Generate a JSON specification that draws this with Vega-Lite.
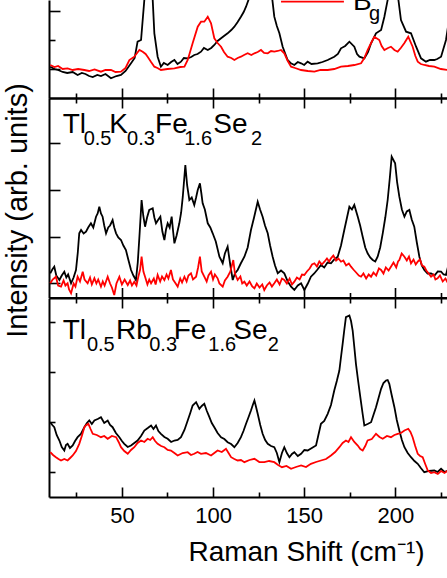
{
  "$schema": "https://vega.github.io/schema/vega-lite/v6.json",
  "padding": {"left": 3, "top": 0, "right": 0, "bottom": 0},
  "spacing": 0,
  "bounds": "flush",
  "config": {
    "font": "Liberation Sans",
    "view": {"stroke": null},
    "concat": {"spacing": 0},
    "axis": {"domainColor": "black", "domainWidth": 2, "tickColor": "black", "tickWidth": 1.6, "labelColor": "black", "titleColor": "black", "grid": false, "titleFontWeight": "normal", "labelFont": "Liberation Sans", "titleFont": "Liberation Sans"},
    "text": {"font": "Liberation Sans", "color": "black"}
  },
  "datasets": {
    "spec": [
      {"p":"top","s":"Ag","x":10.7,"y":31.3},{"p":"top","s":"Ag","x":13,"y":29},{"p":"top","s":"Ag","x":15,"y":28},{"p":"top","s":"Ag","x":17.5,"y":26},{"p":"top","s":"Ag","x":20,"y":25},{"p":"top","s":"Ag","x":23,"y":26},{"p":"top","s":"Ag","x":25.7,"y":23},{"p":"top","s":"Ag","x":28,"y":25},{"p":"top","s":"Ag","x":30,"y":24},{"p":"top","s":"Ag","x":32,"y":22},{"p":"top","s":"Ag","x":34,"y":21},{"p":"top","s":"Ag","x":36.5,"y":23},{"p":"top","s":"Ag","x":38.5,"y":22},{"p":"top","s":"Ag","x":41,"y":24},{"p":"top","s":"Ag","x":44,"y":19.7},{"p":"top","s":"Ag","x":47,"y":22},{"p":"top","s":"Ag","x":49.5,"y":23},{"p":"top","s":"Ag","x":52,"y":27},{"p":"top","s":"Ag","x":55,"y":34.7},{"p":"top","s":"Ag","x":57,"y":40},{"p":"top","s":"Ag","x":58.6,"y":56.3},{"p":"top","s":"Ag","x":60.5,"y":58},{"p":"top","s":"Ag","x":62.3,"y":98},{"p":"top","s":"Ag","x":63.8,"y":200},{"p":"top","s":"Ag","x":65.5,"y":150},{"p":"top","s":"Ag","x":66.9,"y":98},{"p":"top","s":"Ag","x":67.8,"y":64.7},{"p":"top","s":"Ag","x":69.6,"y":41.3},{"p":"top","s":"Ag","x":71.4,"y":31.3},{"p":"top","s":"Ag","x":73,"y":35},{"p":"top","s":"Ag","x":75.1,"y":33},{"p":"top","s":"Ag","x":77,"y":36},{"p":"top","s":"Ag","x":78.8,"y":38},{"p":"top","s":"Ag","x":80.5,"y":34},{"p":"top","s":"Ag","x":82.4,"y":36.3},{"p":"top","s":"Ag","x":84,"y":40},{"p":"top","s":"Ag","x":86.1,"y":39.7},{"p":"top","s":"Ag","x":88,"y":41},{"p":"top","s":"Ag","x":89.7,"y":43},{"p":"top","s":"Ag","x":91.5,"y":44},{"p":"top","s":"Ag","x":93.4,"y":46.3},{"p":"top","s":"Ag","x":95,"y":50},{"p":"top","s":"Ag","x":97.1,"y":48},{"p":"top","s":"Ag","x":99,"y":50},{"p":"top","s":"Ag","x":100.7,"y":53},{"p":"top","s":"Ag","x":102.5,"y":57},{"p":"top","s":"Ag","x":104.4,"y":59.7},{"p":"top","s":"Ag","x":106,"y":62},{"p":"top","s":"Ag","x":108,"y":64.7},{"p":"top","s":"Ag","x":110,"y":68},{"p":"top","s":"Ag","x":111.7,"y":71.3},{"p":"top","s":"Ag","x":113.5,"y":76},{"p":"top","s":"Ag","x":115.3,"y":81.3},{"p":"top","s":"Ag","x":116.8,"y":86},{"p":"top","s":"Ag","x":118.1,"y":91.3},{"p":"top","s":"Ag","x":120.8,"y":105},{"p":"top","s":"Ag","x":124.5,"y":125},{"p":"top","s":"Ag","x":128,"y":130},{"p":"top","s":"Ag","x":131.8,"y":110},{"p":"top","s":"Ag","x":133.6,"y":81.3},{"p":"top","s":"Ag","x":135,"y":72},{"p":"top","s":"Ag","x":136.4,"y":64.7},{"p":"top","s":"Ag","x":138.2,"y":51.3},{"p":"top","s":"Ag","x":140.9,"y":38},{"p":"top","s":"Ag","x":142.5,"y":35},{"p":"top","s":"Ag","x":144.6,"y":33},{"p":"top","s":"Ag","x":146.5,"y":36},{"p":"top","s":"Ag","x":148.3,"y":34.7},{"p":"top","s":"Ag","x":150,"y":33},{"p":"top","s":"Ag","x":151.9,"y":36.3},{"p":"top","s":"Ag","x":154,"y":34},{"p":"top","s":"Ag","x":157.4,"y":34.7},{"p":"top","s":"Ag","x":160,"y":36},{"p":"top","s":"Ag","x":162.9,"y":38},{"p":"top","s":"Ag","x":166.5,"y":41.3},{"p":"top","s":"Ag","x":168.5,"y":44},{"p":"top","s":"Ag","x":170.2,"y":49.7},{"p":"top","s":"Ag","x":172.5,"y":52},{"p":"top","s":"Ag","x":174.8,"y":56.3},{"p":"top","s":"Ag","x":177.5,"y":51.3},{"p":"top","s":"Ag","x":179,"y":44},{"p":"top","s":"Ag","x":180.3,"y":41.3},{"p":"top","s":"Ag","x":183,"y":39.7},{"p":"top","s":"Ag","x":185,"y":46},{"p":"top","s":"Ag","x":186.7,"y":54.7},{"p":"top","s":"Ag","x":189.4,"y":64.7},{"p":"top","s":"Ag","x":192.2,"y":68},{"p":"top","s":"Ag","x":194,"y":81.3},{"p":"top","s":"Ag","x":195.8,"y":98},{"p":"top","s":"Ag","x":198.6,"y":200},{"p":"top","s":"Ag","x":201.7,"y":98},{"p":"top","s":"Ag","x":203.1,"y":78},{"p":"top","s":"Ag","x":205.9,"y":66.3},{"p":"top","s":"Ag","x":208.6,"y":64.7},{"p":"top","s":"Ag","x":211.4,"y":51.3},{"p":"top","s":"Ag","x":214.1,"y":39.7},{"p":"top","s":"Ag","x":216.8,"y":36.3},{"p":"top","s":"Ag","x":219,"y":38},{"p":"top","s":"Ag","x":221.4,"y":38},{"p":"top","s":"Ag","x":223,"y":39},{"p":"top","s":"Ag","x":225.1,"y":41.3},{"p":"top","s":"Ag","x":227.8,"y":58},{"p":"top","s":"Ag","x":228.9,"y":71.3},{"p":"top","s":"Ag","x":230,"y":85},

      {"p":"top","s":"Bg","x":10.7,"y":33},{"p":"top","s":"Bg","x":13,"y":31},{"p":"top","s":"Bg","x":15,"y":32},{"p":"top","s":"Bg","x":17.5,"y":29},{"p":"top","s":"Bg","x":20.2,"y":29.7},{"p":"top","s":"Bg","x":23,"y":28},{"p":"top","s":"Bg","x":26,"y":29},{"p":"top","s":"Bg","x":29.4,"y":28},{"p":"top","s":"Bg","x":32,"y":27},{"p":"top","s":"Bg","x":35,"y":28.5},{"p":"top","s":"Bg","x":38.5,"y":26.3},{"p":"top","s":"Bg","x":41,"y":28},{"p":"top","s":"Bg","x":44,"y":28},{"p":"top","s":"Bg","x":46.5,"y":26},{"p":"top","s":"Bg","x":49.5,"y":26.3},{"p":"top","s":"Bg","x":52,"y":30},{"p":"top","s":"Bg","x":54.1,"y":38},{"p":"top","s":"Bg","x":56.8,"y":41.3},{"p":"top","s":"Bg","x":59.6,"y":48},{"p":"top","s":"Bg","x":61.4,"y":46.3},{"p":"top","s":"Bg","x":63,"y":44},{"p":"top","s":"Bg","x":64.1,"y":41.3},{"p":"top","s":"Bg","x":66,"y":36},{"p":"top","s":"Bg","x":67.8,"y":31.3},{"p":"top","s":"Bg","x":69.5,"y":30},{"p":"top","s":"Bg","x":71.4,"y":28},{"p":"top","s":"Bg","x":75,"y":29},{"p":"top","s":"Bg","x":78.8,"y":29.7},{"p":"top","s":"Bg","x":82,"y":31},{"p":"top","s":"Bg","x":84.3,"y":31.3},{"p":"top","s":"Bg","x":86.1,"y":38},{"p":"top","s":"Bg","x":88.8,"y":54.7},{"p":"top","s":"Bg","x":91.6,"y":71.3},{"p":"top","s":"Bg","x":93.4,"y":76.3},{"p":"top","s":"Bg","x":95.2,"y":76.3},{"p":"top","s":"Bg","x":97.1,"y":81.3},{"p":"top","s":"Bg","x":98.9,"y":74.7},{"p":"top","s":"Bg","x":100.7,"y":59.7},{"p":"top","s":"Bg","x":102.5,"y":55},{"p":"top","s":"Bg","x":104.4,"y":51.3},{"p":"top","s":"Bg","x":106,"y":46},{"p":"top","s":"Bg","x":108,"y":41.3},{"p":"top","s":"Bg","x":110,"y":40},{"p":"top","s":"Bg","x":111.7,"y":38},{"p":"top","s":"Bg","x":113.5,"y":40},{"p":"top","s":"Bg","x":115.3,"y":41.3},{"p":"top","s":"Bg","x":117,"y":43},{"p":"top","s":"Bg","x":119,"y":44.7},{"p":"top","s":"Bg","x":121,"y":43},{"p":"top","s":"Bg","x":122.7,"y":44.7},{"p":"top","s":"Bg","x":124.5,"y":46},{"p":"top","s":"Bg","x":126.3,"y":48},{"p":"top","s":"Bg","x":128,"y":45},{"p":"top","s":"Bg","x":130,"y":44.7},{"p":"top","s":"Bg","x":131.8,"y":47},{"p":"top","s":"Bg","x":133.6,"y":46.3},{"p":"top","s":"Bg","x":135.5,"y":47},{"p":"top","s":"Bg","x":137.3,"y":48},{"p":"top","s":"Bg","x":139.1,"y":44.7},{"p":"top","s":"Bg","x":141,"y":37},{"p":"top","s":"Bg","x":142.8,"y":31.3},{"p":"top","s":"Bg","x":145,"y":30},{"p":"top","s":"Bg","x":148.3,"y":28},{"p":"top","s":"Bg","x":152,"y":27},{"p":"top","s":"Bg","x":155.6,"y":26.3},{"p":"top","s":"Bg","x":159,"y":28},{"p":"top","s":"Bg","x":162.9,"y":28},{"p":"top","s":"Bg","x":166.5,"y":29},{"p":"top","s":"Bg","x":170.2,"y":31.3},{"p":"top","s":"Bg","x":174,"y":32},{"p":"top","s":"Bg","x":177.5,"y":33},{"p":"top","s":"Bg","x":181.2,"y":34.7},{"p":"top","s":"Bg","x":183,"y":40},{"p":"top","s":"Bg","x":184.8,"y":48},{"p":"top","s":"Bg","x":186.7,"y":55},{"p":"top","s":"Bg","x":188.5,"y":61.3},{"p":"top","s":"Bg","x":191.2,"y":58},{"p":"top","s":"Bg","x":192.5,"y":52},{"p":"top","s":"Bg","x":194,"y":48},{"p":"top","s":"Bg","x":196,"y":50},{"p":"top","s":"Bg","x":197.6,"y":51.3},{"p":"top","s":"Bg","x":199.5,"y":48},{"p":"top","s":"Bg","x":201.3,"y":46.3},{"p":"top","s":"Bg","x":203,"y":50},{"p":"top","s":"Bg","x":204.9,"y":54.7},{"p":"top","s":"Bg","x":207.1,"y":61.3},{"p":"top","s":"Bg","x":209.5,"y":51.3},{"p":"top","s":"Bg","x":211,"y":42},{"p":"top","s":"Bg","x":212.3,"y":36.3},{"p":"top","s":"Bg","x":214,"y":34},{"p":"top","s":"Bg","x":215.9,"y":33},{"p":"top","s":"Bg","x":218.5,"y":32},{"p":"top","s":"Bg","x":221.4,"y":31.3},{"p":"top","s":"Bg","x":225,"y":29},{"p":"top","s":"Bg","x":228.9,"y":28},{"p":"top","s":"Bg","x":230,"y":29},

      {"p":"mid","s":"Ag","x":10.7,"y":24.2},{"p":"mid","s":"Ag","x":11.8,"y":28},{"p":"mid","s":"Ag","x":12.9,"y":30.8},{"p":"mid","s":"Ag","x":14,"y":22},{"p":"mid","s":"Ag","x":15.7,"y":17.5},{"p":"mid","s":"Ag","x":17,"y":22},{"p":"mid","s":"Ag","x":18.4,"y":25.8},{"p":"mid","s":"Ag","x":19.5,"y":20},{"p":"mid","s":"Ag","x":20.5,"y":23},{"p":"mid","s":"Ag","x":22.1,"y":14.2},{"p":"mid","s":"Ag","x":23.5,"y":20},{"p":"mid","s":"Ag","x":24.8,"y":27.5},{"p":"mid","s":"Ag","x":25.8,"y":45},{"p":"mid","s":"Ag","x":26.6,"y":64.2},{"p":"mid","s":"Ag","x":27.6,"y":67.5},{"p":"mid","s":"Ag","x":29,"y":64},{"p":"mid","s":"Ag","x":30.3,"y":65.8},{"p":"mid","s":"Ag","x":31.5,"y":70},{"p":"mid","s":"Ag","x":33,"y":74.2},{"p":"mid","s":"Ag","x":34.3,"y":70},{"p":"mid","s":"Ag","x":35.8,"y":80.8},{"p":"mid","s":"Ag","x":36.7,"y":84},{"p":"mid","s":"Ag","x":37.6,"y":90.8},{"p":"mid","s":"Ag","x":38.5,"y":84},{"p":"mid","s":"Ag","x":39.4,"y":80.8},{"p":"mid","s":"Ag","x":40.3,"y":72},{"p":"mid","s":"Ag","x":41.3,"y":64.2},{"p":"mid","s":"Ag","x":42.5,"y":70},{"p":"mid","s":"Ag","x":43.5,"y":72},{"p":"mid","s":"Ag","x":44.9,"y":77.5},{"p":"mid","s":"Ag","x":45.8,"y":70},{"p":"mid","s":"Ag","x":46.8,"y":64.2},{"p":"mid","s":"Ag","x":48,"y":60},{"p":"mid","s":"Ag","x":49.5,"y":57.5},{"p":"mid","s":"Ag","x":50.8,"y":52},{"p":"mid","s":"Ag","x":52.2,"y":47.5},{"p":"mid","s":"Ag","x":53.5,"y":38},{"p":"mid","s":"Ag","x":55,"y":27.5},{"p":"mid","s":"Ag","x":56.3,"y":22},{"p":"mid","s":"Ag","x":57.7,"y":17.5},{"p":"mid","s":"Ag","x":58.7,"y":35},{"p":"mid","s":"Ag","x":59.6,"y":60.8},{"p":"mid","s":"Ag","x":60.8,"y":97.5},{"p":"mid","s":"Ag","x":61.7,"y":82},{"p":"mid","s":"Ag","x":62.7,"y":70.8},{"p":"mid","s":"Ag","x":63.8,"y":80},{"p":"mid","s":"Ag","x":65,"y":87.5},{"p":"mid","s":"Ag","x":66.9,"y":89.2},{"p":"mid","s":"Ag","x":67.8,"y":80},{"p":"mid","s":"Ag","x":68.7,"y":74.2},{"p":"mid","s":"Ag","x":70,"y":78},{"p":"mid","s":"Ag","x":71.1,"y":80.8},{"p":"mid","s":"Ag","x":72.2,"y":66},{"p":"mid","s":"Ag","x":73.3,"y":57.5},{"p":"mid","s":"Ag","x":74.2,"y":68},{"p":"mid","s":"Ag","x":75.1,"y":74.2},{"p":"mid","s":"Ag","x":76.2,"y":70},{"p":"mid","s":"Ag","x":77.3,"y":80.8},{"p":"mid","s":"Ag","x":78.1,"y":66},{"p":"mid","s":"Ag","x":78.8,"y":54.2},{"p":"mid","s":"Ag","x":80,"y":62},{"p":"mid","s":"Ag","x":81.5,"y":74.2},{"p":"mid","s":"Ag","x":82.5,"y":85},{"p":"mid","s":"Ag","x":83.4,"y":100.8},{"p":"mid","s":"Ag","x":84.8,"y":132.5},{"p":"mid","s":"Ag","x":85.8,"y":112},{"p":"mid","s":"Ag","x":87,"y":97.5},{"p":"mid","s":"Ag","x":88.3,"y":100},{"p":"mid","s":"Ag","x":89.7,"y":92.5},{"p":"mid","s":"Ag","x":90.7,"y":100},{"p":"mid","s":"Ag","x":91.6,"y":107.5},{"p":"mid","s":"Ag","x":92.8,"y":114.2},{"p":"mid","s":"Ag","x":93.6,"y":104},{"p":"mid","s":"Ag","x":94.3,"y":94.2},{"p":"mid","s":"Ag","x":95.5,"y":88},{"p":"mid","s":"Ag","x":97.1,"y":74.2},{"p":"mid","s":"Ag","x":98.5,"y":70},{"p":"mid","s":"Ag","x":99.8,"y":64.2},{"p":"mid","s":"Ag","x":101.5,"y":56},{"p":"mid","s":"Ag","x":103.5,"y":40.8},{"p":"mid","s":"Ag","x":104.3,"y":38},{"p":"mid","s":"Ag","x":105.3,"y":34.2},{"p":"mid","s":"Ag","x":106.5,"y":44},{"p":"mid","s":"Ag","x":108,"y":50.8},{"p":"mid","s":"Ag","x":109.5,"y":32},{"p":"mid","s":"Ag","x":110.8,"y":17.5},{"p":"mid","s":"Ag","x":112,"y":24},{"p":"mid","s":"Ag","x":113.5,"y":27.5},{"p":"mid","s":"Ag","x":115.2,"y":34},{"p":"mid","s":"Ag","x":117.2,"y":40.8},{"p":"mid","s":"Ag","x":119,"y":50},{"p":"mid","s":"Ag","x":120.8,"y":67.5},{"p":"mid","s":"Ag","x":122.5,"y":80},{"p":"mid","s":"Ag","x":124.5,"y":95.8},{"p":"mid","s":"Ag","x":125.8,"y":88},{"p":"mid","s":"Ag","x":127.2,"y":80.8},{"p":"mid","s":"Ag","x":128.5,"y":72},{"p":"mid","s":"Ag","x":130,"y":64.2},{"p":"mid","s":"Ag","x":131.3,"y":52},{"p":"mid","s":"Ag","x":132.7,"y":40.8},{"p":"mid","s":"Ag","x":134,"y":32},{"p":"mid","s":"Ag","x":135.5,"y":24.2},{"p":"mid","s":"Ag","x":137.3,"y":27},{"p":"mid","s":"Ag","x":139.1,"y":24.2},{"p":"mid","s":"Ag","x":141,"y":16},{"p":"mid","s":"Ag","x":142.8,"y":10.8},{"p":"mid","s":"Ag","x":144.6,"y":7.5},{"p":"mid","s":"Ag","x":146.5,"y":12},{"p":"mid","s":"Ag","x":148.3,"y":14.2},{"p":"mid","s":"Ag","x":150.1,"y":7.5},{"p":"mid","s":"Ag","x":152,"y":14},{"p":"mid","s":"Ag","x":153.7,"y":20.8},{"p":"mid","s":"Ag","x":155.5,"y":24},{"p":"mid","s":"Ag","x":157.3,"y":28},{"p":"mid","s":"Ag","x":159.2,"y":32.5},{"p":"mid","s":"Ag","x":161,"y":30},{"p":"mid","s":"Ag","x":162.8,"y":35},{"p":"mid","s":"Ag","x":164.7,"y":34.2},{"p":"mid","s":"Ag","x":166.5,"y":38},{"p":"mid","s":"Ag","x":168.4,"y":40.8},{"p":"mid","s":"Ag","x":170.2,"y":52},{"p":"mid","s":"Ag","x":172,"y":67.5},{"p":"mid","s":"Ag","x":173.5,"y":80},{"p":"mid","s":"Ag","x":174.8,"y":90.8},{"p":"mid","s":"Ag","x":176.2,"y":88},{"p":"mid","s":"Ag","x":177.5,"y":92.5},{"p":"mid","s":"Ag","x":179.4,"y":80.8},{"p":"mid","s":"Ag","x":180.7,"y":72},{"p":"mid","s":"Ag","x":182.1,"y":60.8},{"p":"mid","s":"Ag","x":183.5,"y":50},{"p":"mid","s":"Ag","x":184.8,"y":44.2},{"p":"mid","s":"Ag","x":186.2,"y":40},{"p":"mid","s":"Ag","x":187.6,"y":37.5},{"p":"mid","s":"Ag","x":189,"y":36},{"p":"mid","s":"Ag","x":190.3,"y":40.8},{"p":"mid","s":"Ag","x":191.7,"y":50},{"p":"mid","s":"Ag","x":193.1,"y":64.2},{"p":"mid","s":"Ag","x":194.5,"y":80},{"p":"mid","s":"Ag","x":195.8,"y":97.5},{"p":"mid","s":"Ag","x":197,"y":120},{"p":"mid","s":"Ag","x":198,"y":140.8},{"p":"mid","s":"Ag","x":199.9,"y":134.2},{"p":"mid","s":"Ag","x":201,"y":115},{"p":"mid","s":"Ag","x":202.2,"y":100.8},{"p":"mid","s":"Ag","x":203.6,"y":88},{"p":"mid","s":"Ag","x":205,"y":80.8},{"p":"mid","s":"Ag","x":206.3,"y":86},{"p":"mid","s":"Ag","x":207.7,"y":87.5},{"p":"mid","s":"Ag","x":209,"y":78},{"p":"mid","s":"Ag","x":210.4,"y":70.8},{"p":"mid","s":"Ag","x":211.8,"y":55},{"p":"mid","s":"Ag","x":213.2,"y":40.8},{"p":"mid","s":"Ag","x":214.5,"y":32},{"p":"mid","s":"Ag","x":215.9,"y":27.5},{"p":"mid","s":"Ag","x":217.7,"y":24},{"p":"mid","s":"Ag","x":219.6,"y":24.2},{"p":"mid","s":"Ag","x":221.5,"y":22},{"p":"mid","s":"Ag","x":223.3,"y":26},{"p":"mid","s":"Ag","x":225.1,"y":25.8},{"p":"mid","s":"Ag","x":226.5,"y":23},{"p":"mid","s":"Ag","x":227.8,"y":22.5},{"p":"mid","s":"Ag","x":228.9,"y":30.8},{"p":"mid","s":"Ag","x":230,"y":34},

      {"p":"mid","s":"Bg","x":10.7,"y":14.2},{"p":"mid","s":"Bg","x":12,"y":18},{"p":"mid","s":"Bg","x":13.8,"y":20.8},{"p":"mid","s":"Bg","x":15,"y":12},{"p":"mid","s":"Bg","x":16.6,"y":10.8},{"p":"mid","s":"Bg","x":18,"y":17},{"p":"mid","s":"Bg","x":19,"y":12},{"p":"mid","s":"Bg","x":20.2,"y":14.2},{"p":"mid","s":"Bg","x":21,"y":8},{"p":"mid","s":"Bg","x":22.1,"y":4.2},{"p":"mid","s":"Bg","x":23.5,"y":14},{"p":"mid","s":"Bg","x":24.5,"y":11},{"p":"mid","s":"Bg","x":25.7,"y":20.8},{"p":"mid","s":"Bg","x":27,"y":16},{"p":"mid","s":"Bg","x":28.5,"y":25.8},{"p":"mid","s":"Bg","x":29.5,"y":18},{"p":"mid","s":"Bg","x":31.2,"y":14.2},{"p":"mid","s":"Bg","x":32.5,"y":20},{"p":"mid","s":"Bg","x":33.5,"y":13},{"p":"mid","s":"Bg","x":34.9,"y":19.2},{"p":"mid","s":"Bg","x":36,"y":14},{"p":"mid","s":"Bg","x":37,"y":18},{"p":"mid","s":"Bg","x":38.5,"y":10.8},{"p":"mid","s":"Bg","x":39.5,"y":16},{"p":"mid","s":"Bg","x":40.5,"y":12},{"p":"mid","s":"Bg","x":42.2,"y":20.8},{"p":"mid","s":"Bg","x":43.5,"y":14},{"p":"mid","s":"Bg","x":44.5,"y":10},{"p":"mid","s":"Bg","x":45.8,"y":2.5},{"p":"mid","s":"Bg","x":47,"y":14},{"p":"mid","s":"Bg","x":48.6,"y":20.8},{"p":"mid","s":"Bg","x":50,"y":13},{"p":"mid","s":"Bg","x":51.5,"y":18},{"p":"mid","s":"Bg","x":53.2,"y":12.5},{"p":"mid","s":"Bg","x":54.5,"y":17},{"p":"mid","s":"Bg","x":55.5,"y":12},{"p":"mid","s":"Bg","x":56.8,"y":15.8},{"p":"mid","s":"Bg","x":58,"y":12},{"p":"mid","s":"Bg","x":59,"y":20.8},{"p":"mid","s":"Bg","x":60,"y":28},{"p":"mid","s":"Bg","x":60.8,"y":40.8},{"p":"mid","s":"Bg","x":61.8,"y":26},{"p":"mid","s":"Bg","x":62.7,"y":20.8},{"p":"mid","s":"Bg","x":64,"y":13},{"p":"mid","s":"Bg","x":65,"y":18},{"p":"mid","s":"Bg","x":66,"y":14.2},{"p":"mid","s":"Bg","x":67.5,"y":19},{"p":"mid","s":"Bg","x":68.5,"y":13},{"p":"mid","s":"Bg","x":69.6,"y":22.5},{"p":"mid","s":"Bg","x":71,"y":16},{"p":"mid","s":"Bg","x":72,"y":21},{"p":"mid","s":"Bg","x":73.3,"y":17.5},{"p":"mid","s":"Bg","x":74.5,"y":23},{"p":"mid","s":"Bg","x":75.5,"y":19},{"p":"mid","s":"Bg","x":76.9,"y":27.5},{"p":"mid","s":"Bg","x":78,"y":18},{"p":"mid","s":"Bg","x":79.5,"y":14},{"p":"mid","s":"Bg","x":80.6,"y":10.8},{"p":"mid","s":"Bg","x":82,"y":19},{"p":"mid","s":"Bg","x":83,"y":15},{"p":"mid","s":"Bg","x":84.3,"y":20.8},{"p":"mid","s":"Bg","x":85.5,"y":16},{"p":"mid","s":"Bg","x":86.5,"y":22},{"p":"mid","s":"Bg","x":87.9,"y":24.2},{"p":"mid","s":"Bg","x":89,"y":18},{"p":"mid","s":"Bg","x":90.7,"y":20.8},{"p":"mid","s":"Bg","x":91.8,"y":30},{"p":"mid","s":"Bg","x":92.8,"y":40.8},{"p":"mid","s":"Bg","x":93.8,"y":26},{"p":"mid","s":"Bg","x":95.2,"y":20.8},{"p":"mid","s":"Bg","x":96.5,"y":16},{"p":"mid","s":"Bg","x":97.5,"y":22},{"p":"mid","s":"Bg","x":98.9,"y":25.8},{"p":"mid","s":"Bg","x":100,"y":18},{"p":"mid","s":"Bg","x":101,"y":23},{"p":"mid","s":"Bg","x":102.5,"y":19.2},{"p":"mid","s":"Bg","x":103.5,"y":14},{"p":"mid","s":"Bg","x":105.3,"y":10.8},{"p":"mid","s":"Bg","x":106.5,"y":17},{"p":"mid","s":"Bg","x":108,"y":20.8},{"p":"mid","s":"Bg","x":109.5,"y":26},{"p":"mid","s":"Bg","x":111.1,"y":37.5},{"p":"mid","s":"Bg","x":112,"y":24},{"p":"mid","s":"Bg","x":113.5,"y":17.5},{"p":"mid","s":"Bg","x":115,"y":21},{"p":"mid","s":"Bg","x":116,"y":14},{"p":"mid","s":"Bg","x":117.2,"y":15.8},{"p":"mid","s":"Bg","x":118.5,"y":12},{"p":"mid","s":"Bg","x":120,"y":16},{"p":"mid","s":"Bg","x":121.5,"y":11},{"p":"mid","s":"Bg","x":122.7,"y":9.2},{"p":"mid","s":"Bg","x":124,"y":14},{"p":"mid","s":"Bg","x":125.5,"y":10},{"p":"mid","s":"Bg","x":127,"y":13},{"p":"mid","s":"Bg","x":128.1,"y":7.5},{"p":"mid","s":"Bg","x":129.5,"y":12},{"p":"mid","s":"Bg","x":131,"y":15},{"p":"mid","s":"Bg","x":132.3,"y":11},{"p":"mid","s":"Bg","x":133.6,"y":14.2},{"p":"mid","s":"Bg","x":135,"y":18},{"p":"mid","s":"Bg","x":136.5,"y":13},{"p":"mid","s":"Bg","x":137.8,"y":19},{"p":"mid","s":"Bg","x":139.1,"y":17.5},{"p":"mid","s":"Bg","x":140.5,"y":14},{"p":"mid","s":"Bg","x":142,"y":19},{"p":"mid","s":"Bg","x":143.3,"y":13},{"p":"mid","s":"Bg","x":144.6,"y":15.8},{"p":"mid","s":"Bg","x":146,"y":20},{"p":"mid","s":"Bg","x":147.5,"y":18},{"p":"mid","s":"Bg","x":148.8,"y":23},{"p":"mid","s":"Bg","x":150.1,"y":22.5},{"p":"mid","s":"Bg","x":151.5,"y":26},{"p":"mid","s":"Bg","x":153,"y":29},{"p":"mid","s":"Bg","x":154.3,"y":33},{"p":"mid","s":"Bg","x":155.6,"y":34.2},{"p":"mid","s":"Bg","x":157,"y":31},{"p":"mid","s":"Bg","x":158.3,"y":36},{"p":"mid","s":"Bg","x":159.7,"y":33},{"p":"mid","s":"Bg","x":161.1,"y":35.8},{"p":"mid","s":"Bg","x":162.5,"y":39},{"p":"mid","s":"Bg","x":163.7,"y":36},{"p":"mid","s":"Bg","x":164.7,"y":39.2},{"p":"mid","s":"Bg","x":166,"y":42},{"p":"mid","s":"Bg","x":167.5,"y":37},{"p":"mid","s":"Bg","x":168.8,"y":39},{"p":"mid","s":"Bg","x":170.2,"y":35.8},{"p":"mid","s":"Bg","x":171.5,"y":37},{"p":"mid","s":"Bg","x":173,"y":32},{"p":"mid","s":"Bg","x":174.5,"y":34},{"p":"mid","s":"Bg","x":175.7,"y":30.8},{"p":"mid","s":"Bg","x":177,"y":28},{"p":"mid","s":"Bg","x":178.5,"y":25},{"p":"mid","s":"Bg","x":180,"y":22},{"p":"mid","s":"Bg","x":181.2,"y":20.8},{"p":"mid","s":"Bg","x":182.5,"y":24},{"p":"mid","s":"Bg","x":184,"y":19},{"p":"mid","s":"Bg","x":185.4,"y":23},{"p":"mid","s":"Bg","x":186.7,"y":20.8},{"p":"mid","s":"Bg","x":188,"y":25},{"p":"mid","s":"Bg","x":189.5,"y":22},{"p":"mid","s":"Bg","x":191,"y":29},{"p":"mid","s":"Bg","x":192.2,"y":27.5},{"p":"mid","s":"Bg","x":193.5,"y":24},{"p":"mid","s":"Bg","x":194.8,"y":30},{"p":"mid","s":"Bg","x":196.3,"y":27},{"p":"mid","s":"Bg","x":197.6,"y":30.8},{"p":"mid","s":"Bg","x":199,"y":35},{"p":"mid","s":"Bg","x":200.5,"y":30},{"p":"mid","s":"Bg","x":201.5,"y":36},{"p":"mid","s":"Bg","x":202.2,"y":37.5},{"p":"mid","s":"Bg","x":203.5,"y":44},{"p":"mid","s":"Bg","x":205,"y":40.8},{"p":"mid","s":"Bg","x":206.3,"y":37},{"p":"mid","s":"Bg","x":207.5,"y":41},{"p":"mid","s":"Bg","x":208.6,"y":34.2},{"p":"mid","s":"Bg","x":210,"y":38},{"p":"mid","s":"Bg","x":211.2,"y":33},{"p":"mid","s":"Bg","x":212.3,"y":35.8},{"p":"mid","s":"Bg","x":213.5,"y":38},{"p":"mid","s":"Bg","x":214.7,"y":32},{"p":"mid","s":"Bg","x":215.9,"y":30.8},{"p":"mid","s":"Bg","x":217,"y":27},{"p":"mid","s":"Bg","x":218.3,"y":24},{"p":"mid","s":"Bg","x":219.6,"y":20.8},{"p":"mid","s":"Bg","x":221,"y":23},{"p":"mid","s":"Bg","x":222,"y":18},{"p":"mid","s":"Bg","x":223.2,"y":19.2},{"p":"mid","s":"Bg","x":224.5,"y":22},{"p":"mid","s":"Bg","x":226,"y":16},{"p":"mid","s":"Bg","x":227.5,"y":19},{"p":"mid","s":"Bg","x":228.9,"y":14.2},{"p":"mid","s":"Bg","x":230,"y":15},

      {"p":"bot","s":"Ag","x":10.7,"y":74.8},{"p":"bot","s":"Ag","x":11.8,"y":72},{"p":"bot","s":"Ag","x":12.9,"y":69.8},{"p":"bot","s":"Ag","x":14.2,"y":62},{"p":"bot","s":"Ag","x":15.7,"y":56.5},{"p":"bot","s":"Ag","x":17,"y":50},{"p":"bot","s":"Ag","x":18.4,"y":46.5},{"p":"bot","s":"Ag","x":19.3,"y":52},{"p":"bot","s":"Ag","x":20.2,"y":53.2},{"p":"bot","s":"Ag","x":21.5,"y":49},{"p":"bot","s":"Ag","x":23,"y":51.5},{"p":"bot","s":"Ag","x":24.3,"y":56},{"p":"bot","s":"Ag","x":25.7,"y":59.8},{"p":"bot","s":"Ag","x":27.5,"y":63},{"p":"bot","s":"Ag","x":29.4,"y":69.8},{"p":"bot","s":"Ag","x":30.8,"y":74},{"p":"bot","s":"Ag","x":32.1,"y":76.5},{"p":"bot","s":"Ag","x":33.5,"y":73},{"p":"bot","s":"Ag","x":34.9,"y":76.5},{"p":"bot","s":"Ag","x":36.7,"y":78},{"p":"bot","s":"Ag","x":38.5,"y":79.8},{"p":"bot","s":"Ag","x":40.3,"y":74},{"p":"bot","s":"Ag","x":42.2,"y":76.5},{"p":"bot","s":"Ag","x":43.5,"y":72},{"p":"bot","s":"Ag","x":44.9,"y":69.8},{"p":"bot","s":"Ag","x":46.7,"y":64},{"p":"bot","s":"Ag","x":48.6,"y":59.8},{"p":"bot","s":"Ag","x":50,"y":56},{"p":"bot","s":"Ag","x":51.3,"y":53.2},{"p":"bot","s":"Ag","x":53.2,"y":50},{"p":"bot","s":"Ag","x":55,"y":51.5},{"p":"bot","s":"Ag","x":56.8,"y":54},{"p":"bot","s":"Ag","x":58.6,"y":56.5},{"p":"bot","s":"Ag","x":60.5,"y":61},{"p":"bot","s":"Ag","x":62.3,"y":66.5},{"p":"bot","s":"Ag","x":64.2,"y":69},{"p":"bot","s":"Ag","x":66,"y":71.5},{"p":"bot","s":"Ag","x":67.3,"y":68},{"p":"bot","s":"Ag","x":68.7,"y":71.5},{"p":"bot","s":"Ag","x":70,"y":66},{"p":"bot","s":"Ag","x":71.4,"y":63.2},{"p":"bot","s":"Ag","x":73.3,"y":60},{"p":"bot","s":"Ag","x":75.1,"y":58.2},{"p":"bot","s":"Ag","x":77,"y":55},{"p":"bot","s":"Ag","x":78.8,"y":56.5},{"p":"bot","s":"Ag","x":80.6,"y":57},{"p":"bot","s":"Ag","x":82.4,"y":59.8},{"p":"bot","s":"Ag","x":84.3,"y":67},{"p":"bot","s":"Ag","x":86.1,"y":76.5},{"p":"bot","s":"Ag","x":87.5,"y":84},{"p":"bot","s":"Ag","x":88.8,"y":91.5},{"p":"bot","s":"Ag","x":90.7,"y":94.8},{"p":"bot","s":"Ag","x":92.5,"y":88.2},{"p":"bot","s":"Ag","x":93.8,"y":91},{"p":"bot","s":"Ag","x":95.2,"y":93.2},{"p":"bot","s":"Ag","x":96.6,"y":86},{"p":"bot","s":"Ag","x":98,"y":79.8},{"p":"bot","s":"Ag","x":99.3,"y":74},{"p":"bot","s":"Ag","x":100.7,"y":69.8},{"p":"bot","s":"Ag","x":102.5,"y":64},{"p":"bot","s":"Ag","x":104.4,"y":59.8},{"p":"bot","s":"Ag","x":106.2,"y":58},{"p":"bot","s":"Ag","x":108,"y":54.8},{"p":"bot","s":"Ag","x":109.9,"y":53},{"p":"bot","s":"Ag","x":111.7,"y":49.8},{"p":"bot","s":"Ag","x":113.5,"y":54},{"p":"bot","s":"Ag","x":115.3,"y":59.8},{"p":"bot","s":"Ag","x":116.7,"y":66},{"p":"bot","s":"Ag","x":118.1,"y":73.2},{"p":"bot","s":"Ag","x":119.5,"y":80},{"p":"bot","s":"Ag","x":120.8,"y":86.5},{"p":"bot","s":"Ag","x":121.8,"y":92},{"p":"bot","s":"Ag","x":122.7,"y":96.5},{"p":"bot","s":"Ag","x":123.6,"y":90},{"p":"bot","s":"Ag","x":124.5,"y":83.2},{"p":"bot","s":"Ag","x":125.9,"y":72},{"p":"bot","s":"Ag","x":127.2,"y":63.2},{"p":"bot","s":"Ag","x":128.6,"y":57},{"p":"bot","s":"Ag","x":130,"y":53.2},{"p":"bot","s":"Ag","x":131.8,"y":51},{"p":"bot","s":"Ag","x":133.6,"y":49.8},{"p":"bot","s":"Ag","x":135,"y":44},{"p":"bot","s":"Ag","x":136.4,"y":34.8},{"p":"bot","s":"Ag","x":137.8,"y":44},{"p":"bot","s":"Ag","x":139.1,"y":49.8},{"p":"bot","s":"Ag","x":140.5,"y":44},{"p":"bot","s":"Ag","x":141.9,"y":39.8},{"p":"bot","s":"Ag","x":143.3,"y":43},{"p":"bot","s":"Ag","x":144.6,"y":44.8},{"p":"bot","s":"Ag","x":146.5,"y":41},{"p":"bot","s":"Ag","x":148.3,"y":43.2},{"p":"bot","s":"Ag","x":150.1,"y":47},{"p":"bot","s":"Ag","x":151.9,"y":46.5},{"p":"bot","s":"Ag","x":154.2,"y":49},{"p":"bot","s":"Ag","x":156.5,"y":51.5},{"p":"bot","s":"Ag","x":157.8,"y":62},{"p":"bot","s":"Ag","x":159.2,"y":73.2},{"p":"bot","s":"Ag","x":161,"y":76},{"p":"bot","s":"Ag","x":162.9,"y":83.2},{"p":"bot","s":"Ag","x":164.7,"y":92},{"p":"bot","s":"Ag","x":166.5,"y":106.5},{"p":"bot","s":"Ag","x":167.9,"y":116},{"p":"bot","s":"Ag","x":169.3,"y":126.5},{"p":"bot","s":"Ag","x":170.2,"y":140},{"p":"bot","s":"Ag","x":171.1,"y":153.2},{"p":"bot","s":"Ag","x":172,"y":167},{"p":"bot","s":"Ag","x":172.9,"y":179.8},{"p":"bot","s":"Ag","x":174.8,"y":181.5},{"p":"bot","s":"Ag","x":175.7,"y":176},{"p":"bot","s":"Ag","x":176.6,"y":166.5},{"p":"bot","s":"Ag","x":177.5,"y":150},{"p":"bot","s":"Ag","x":178.4,"y":133.2},{"p":"bot","s":"Ag","x":179.6,"y":116},{"p":"bot","s":"Ag","x":180.8,"y":99.8},{"p":"bot","s":"Ag","x":182,"y":84},{"p":"bot","s":"Ag","x":183,"y":71.5},{"p":"bot","s":"Ag","x":184.8,"y":73},{"p":"bot","s":"Ag","x":186.7,"y":74.8},{"p":"bot","s":"Ag","x":188,"y":82},{"p":"bot","s":"Ag","x":189.4,"y":89.8},{"p":"bot","s":"Ag","x":190.8,"y":99},{"p":"bot","s":"Ag","x":192.2,"y":108.2},{"p":"bot","s":"Ag","x":193.5,"y":114},{"p":"bot","s":"Ag","x":194.9,"y":116.5},{"p":"bot","s":"Ag","x":195.8,"y":117},{"p":"bot","s":"Ag","x":196.7,"y":113.2},{"p":"bot","s":"Ag","x":198,"y":102},{"p":"bot","s":"Ag","x":199.5,"y":89.8},{"p":"bot","s":"Ag","x":200.8,"y":77},{"p":"bot","s":"Ag","x":202.2,"y":66.5},{"p":"bot","s":"Ag","x":203.6,"y":57},{"p":"bot","s":"Ag","x":205,"y":49.8},{"p":"bot","s":"Ag","x":206.8,"y":44},{"p":"bot","s":"Ag","x":208.6,"y":39.8},{"p":"bot","s":"Ag","x":210.5,"y":36},{"p":"bot","s":"Ag","x":212.3,"y":33.2},{"p":"bot","s":"Ag","x":214,"y":29},{"p":"bot","s":"Ag","x":215.9,"y":24.8},{"p":"bot","s":"Ag","x":218.5,"y":26},{"p":"bot","s":"Ag","x":221.4,"y":26.5},{"p":"bot","s":"Ag","x":223.2,"y":25},{"p":"bot","s":"Ag","x":225.1,"y":28.2},{"p":"bot","s":"Ag","x":227,"y":25},{"p":"bot","s":"Ag","x":228.9,"y":26.5},{"p":"bot","s":"Ag","x":230,"y":27},

      {"p":"bot","s":"Bg","x":10.7,"y":44.8},{"p":"bot","s":"Bg","x":12.2,"y":42},{"p":"bot","s":"Bg","x":13.8,"y":39.8},{"p":"bot","s":"Bg","x":15.2,"y":38},{"p":"bot","s":"Bg","x":16.6,"y":36.5},{"p":"bot","s":"Bg","x":18.4,"y":38},{"p":"bot","s":"Bg","x":20.2,"y":36.5},{"p":"bot","s":"Bg","x":21.6,"y":39},{"p":"bot","s":"Bg","x":23,"y":41.5},{"p":"bot","s":"Bg","x":24.8,"y":46},{"p":"bot","s":"Bg","x":26.6,"y":53.2},{"p":"bot","s":"Bg","x":28,"y":61},{"p":"bot","s":"Bg","x":29.4,"y":69.8},{"p":"bot","s":"Bg","x":30.5,"y":72},{"p":"bot","s":"Bg","x":31.6,"y":73.2},{"p":"bot","s":"Bg","x":32.8,"y":68},{"p":"bot","s":"Bg","x":34,"y":63.2},{"p":"bot","s":"Bg","x":36.2,"y":62},{"p":"bot","s":"Bg","x":38.5,"y":59.8},{"p":"bot","s":"Bg","x":40.3,"y":61},{"p":"bot","s":"Bg","x":42.2,"y":58.2},{"p":"bot","s":"Bg","x":44.5,"y":61},{"p":"bot","s":"Bg","x":46.8,"y":59.8},{"p":"bot","s":"Bg","x":48.2,"y":55},{"p":"bot","s":"Bg","x":49.5,"y":49.8},{"p":"bot","s":"Bg","x":51.3,"y":46},{"p":"bot","s":"Bg","x":53.2,"y":43.2},{"p":"bot","s":"Bg","x":55,"y":47},{"p":"bot","s":"Bg","x":56.8,"y":49.8},{"p":"bot","s":"Bg","x":58.6,"y":54},{"p":"bot","s":"Bg","x":60.5,"y":56.5},{"p":"bot","s":"Bg","x":62.3,"y":55},{"p":"bot","s":"Bg","x":64.1,"y":58.2},{"p":"bot","s":"Bg","x":65.5,"y":57},{"p":"bot","s":"Bg","x":66.9,"y":59.8},{"p":"bot","s":"Bg","x":68.2,"y":56},{"p":"bot","s":"Bg","x":69.6,"y":53.2},{"p":"bot","s":"Bg","x":71.5,"y":51},{"p":"bot","s":"Bg","x":73.3,"y":49.8},{"p":"bot","s":"Bg","x":75.1,"y":47},{"p":"bot","s":"Bg","x":76.9,"y":46.5},{"p":"bot","s":"Bg","x":78.8,"y":44},{"p":"bot","s":"Bg","x":80.6,"y":41.5},{"p":"bot","s":"Bg","x":83.3,"y":44},{"p":"bot","s":"Bg","x":86.1,"y":44.8},{"p":"bot","s":"Bg","x":87.9,"y":42},{"p":"bot","s":"Bg","x":89.7,"y":43.2},{"p":"bot","s":"Bg","x":91.5,"y":45},{"p":"bot","s":"Bg","x":93.4,"y":43.2},{"p":"bot","s":"Bg","x":96.1,"y":44},{"p":"bot","s":"Bg","x":98.9,"y":41.5},{"p":"bot","s":"Bg","x":100.7,"y":44},{"p":"bot","s":"Bg","x":102.5,"y":46.5},{"p":"bot","s":"Bg","x":104.8,"y":45},{"p":"bot","s":"Bg","x":107.1,"y":48.2},{"p":"bot","s":"Bg","x":108.5,"y":44},{"p":"bot","s":"Bg","x":109.9,"y":39.8},{"p":"bot","s":"Bg","x":111.7,"y":38},{"p":"bot","s":"Bg","x":113.5,"y":36.5},{"p":"bot","s":"Bg","x":115.3,"y":37},{"p":"bot","s":"Bg","x":117.2,"y":34.8},{"p":"bot","s":"Bg","x":120,"y":37},{"p":"bot","s":"Bg","x":122.7,"y":38.2},{"p":"bot","s":"Bg","x":125.4,"y":35},{"p":"bot","s":"Bg","x":128.1,"y":34.8},{"p":"bot","s":"Bg","x":130.8,"y":36},{"p":"bot","s":"Bg","x":133.6,"y":34.8},{"p":"bot","s":"Bg","x":135.7,"y":32},{"p":"bot","s":"Bg","x":137.8,"y":29.8},{"p":"bot","s":"Bg","x":140.3,"y":31},{"p":"bot","s":"Bg","x":142.8,"y":28.2},{"p":"bot","s":"Bg","x":145.5,"y":30},{"p":"bot","s":"Bg","x":148.3,"y":31.5},{"p":"bot","s":"Bg","x":151,"y":30},{"p":"bot","s":"Bg","x":153.7,"y":33.2},{"p":"bot","s":"Bg","x":156.5,"y":35},{"p":"bot","s":"Bg","x":159.2,"y":36.5},{"p":"bot","s":"Bg","x":162,"y":38},{"p":"bot","s":"Bg","x":164.7,"y":41.5},{"p":"bot","s":"Bg","x":167,"y":45},{"p":"bot","s":"Bg","x":169.3,"y":49.8},{"p":"bot","s":"Bg","x":171.1,"y":54},{"p":"bot","s":"Bg","x":172.9,"y":56.5},{"p":"bot","s":"Bg","x":174.3,"y":55},{"p":"bot","s":"Bg","x":175.7,"y":59.8},{"p":"bot","s":"Bg","x":177.5,"y":55},{"p":"bot","s":"Bg","x":179.4,"y":51.5},{"p":"bot","s":"Bg","x":180.8,"y":48},{"p":"bot","s":"Bg","x":182.1,"y":46.5},{"p":"bot","s":"Bg","x":183.5,"y":51},{"p":"bot","s":"Bg","x":184.8,"y":56.5},{"p":"bot","s":"Bg","x":187.1,"y":58},{"p":"bot","s":"Bg","x":189.4,"y":63.2},{"p":"bot","s":"Bg","x":191.3,"y":60},{"p":"bot","s":"Bg","x":193.1,"y":58.2},{"p":"bot","s":"Bg","x":195.4,"y":61},{"p":"bot","s":"Bg","x":197.6,"y":59.8},{"p":"bot","s":"Bg","x":199.5,"y":62},{"p":"bot","s":"Bg","x":201.3,"y":63.2},{"p":"bot","s":"Bg","x":203.1,"y":64},{"p":"bot","s":"Bg","x":205,"y":66.5},{"p":"bot","s":"Bg","x":207.1,"y":68.2},{"p":"bot","s":"Bg","x":208.3,"y":65},{"p":"bot","s":"Bg","x":209.5,"y":59.8},{"p":"bot","s":"Bg","x":210.9,"y":51},{"p":"bot","s":"Bg","x":212.3,"y":43.2},{"p":"bot","s":"Bg","x":213.6,"y":41},{"p":"bot","s":"Bg","x":215,"y":39.8},{"p":"bot","s":"Bg","x":216.4,"y":33},{"p":"bot","s":"Bg","x":217.8,"y":26.5},{"p":"bot","s":"Bg","x":219.6,"y":24},{"p":"bot","s":"Bg","x":221.4,"y":24.8},{"p":"bot","s":"Bg","x":223.3,"y":23},{"p":"bot","s":"Bg","x":225.1,"y":26},{"p":"bot","s":"Bg","x":227,"y":24},{"p":"bot","s":"Bg","x":228.9,"y":26.5},{"p":"bot","s":"Bg","x":230,"y":26}
    ],
    "lab": [
      {"p":"mid","k":"main","x":17.5,"y":164.2,"t":"Tl"},{"p":"mid","k":"sub","x":29.0,"y":152.5,"t":"0.5"},{"p":"mid","k":"main","x":43.1,"y":164.2,"t":"K"},{"p":"mid","k":"sub","x":52.8,"y":152.5,"t":"0.3"},{"p":"mid","k":"main","x":68.2,"y":164.2,"t":"Fe"},{"p":"mid","k":"sub","x":84.2,"y":152.5,"t":"1.6"},{"p":"mid","k":"main","x":100.1,"y":164.2,"t":"Se"},{"p":"mid","k":"sub","x":120.8,"y":152.5,"t":"2"},
      {"p":"bot","k":"main","x":17.5,"y":158.2,"t":"Tl"},{"p":"bot","k":"sub","x":30.8,"y":146.5,"t":"0.5"},{"p":"bot","k":"main","x":46.8,"y":158.2,"t":"Rb"},{"p":"bot","k":"sub","x":65.0,"y":146.5,"t":"0.3"},{"p":"bot","k":"main","x":78.4,"y":158.2,"t":"Fe"},{"p":"bot","k":"sub","x":97.4,"y":146.5,"t":"1.6"},{"p":"bot","k":"main","x":111.1,"y":158.2,"t":"Se"},{"p":"bot","k":"sub","x":130.0,"y":146.5,"t":"2"},
      {"p":"top","k":"main","x":176.8,"y":88,"t":"B"},{"p":"top","k":"sub","x":185.5,"y":78,"t":"g"}
    ],
    "leg": [{"x":137.3,"x2":171.8,"y":96.3,"s":"Bg"}]
  },
  "vconcat": [
    {
      "width": 401, "height": 98,
      "layer": [
        {
          "data": {"name": "spec"},
          "transform": [{"filter": "datum.p === 'top'"}],
          "mark": {"type": "line", "clip": true, "strokeWidth": 1.8},
          "encoding": {
            "x": {"field": "x", "type": "quantitative", "scale": {"domain": [10, 230], "nice": false},
                  "axis": {"orient": "bottom", "values": [25,50,75,100,125,150,175,200,225], "labels": false, "title": null, "tickSize": {"condition": {"test": "datum.value % 50 === 0", "value": -10}, "value": -5}}},
            "y": {"field": "y", "type": "quantitative", "scale": {"domain": [0, 98], "nice": false, "zero": false},
                  "axis": {"orient": "left", "values": [29, 58, 87], "labels": false, "title": null, "tickSize": {"condition": {"test": "datum.value === 29 || datum.value === 87", "value": -11}, "value": -6}}},
            "color": {"field": "s", "type": "nominal", "scale": {"domain": ["Ag", "Bg"], "range": ["black", "#ff0000"]}, "legend": null}
          }
        },
        {
          "data": {"name": "leg"},
          "mark": {"type": "rule", "color": "#ff0000", "strokeWidth": 1.8, "clip": true},
          "encoding": {
            "x": {"field": "x", "type": "quantitative", "axis": null},
            "x2": {"field": "x2"},
            "y": {"field": "y", "type": "quantitative"}
          }
        },
        {
          "data": {"name": "lab"},
          "transform": [{"filter": "datum.p === 'top' && datum.k === 'main'"}],
          "mark": {"type": "text", "align": "left", "baseline": "alphabetic", "fontSize": 28, "clip": true},
          "encoding": {
            "x": {"field": "x", "type": "quantitative", "axis": null},
            "y": {"field": "y", "type": "quantitative"},
            "text": {"field": "t"}
          }
        },
        {
          "data": {"name": "lab"},
          "transform": [{"filter": "datum.p === 'top' && datum.k === 'sub'"}],
          "mark": {"type": "text", "align": "left", "baseline": "alphabetic", "fontSize": 20, "clip": true},
          "encoding": {
            "x": {"field": "x", "type": "quantitative", "axis": null},
            "y": {"field": "y", "type": "quantitative"},
            "text": {"field": "t"}
          }
        }
      ],
      "resolve": {"axis": {"x": "independent"}}
    },
    {
      "width": 401, "height": 199.5,
      "layer": [
        {
          "data": {"name": "spec"},
          "transform": [{"filter": "datum.p === 'mid'"}],
          "mark": {"type": "line", "clip": true, "strokeWidth": 1.8},
          "encoding": {
            "x": {"field": "x", "type": "quantitative", "scale": {"domain": [10, 230], "nice": false},
                  "axis": {"orient": "bottom", "values": [25,50,75,100,125,150,175,200,225], "labels": false, "title": null, "tickSize": {"condition": {"test": "datum.value % 50 === 0", "value": -10}, "value": -5}}},
            "y": {"field": "y", "type": "quantitative", "scale": {"domain": [0, 199.5], "nice": false, "zero": false},
                  "axis": {"orient": "left", "values": [14.2, 37.5, 60.8, 84.2, 107.5, 130.8, 154.2, 177.5], "labels": false, "title": "Intensity (arb. units)", "titleFontSize": 29, "titlePadding": 16, "titleY": 112, "tickSize": {"condition": {"test": "indexof([14, 61, 108, 154], round(datum.value)) >= 0", "value": -11}, "value": -6}}},
            "color": {"field": "s", "type": "nominal", "scale": {"domain": ["Ag", "Bg"], "range": ["black", "#ff0000"]}, "legend": null}
          }
        },
        {
          "data": {"name": "lab"},
          "transform": [{"filter": "datum.p === 'mid' && datum.k === 'main'"}],
          "mark": {"type": "text", "align": "left", "baseline": "alphabetic", "fontSize": 28},
          "encoding": {
            "x": {"field": "x", "type": "quantitative",
                  "axis": {"orient": "top", "values": [25,50,75,100,125,150,175,200,225], "labels": false, "title": null, "tickSize": {"condition": {"test": "datum.value % 50 === 0", "value": -10}, "value": -5}}},
            "y": {"field": "y", "type": "quantitative"},
            "text": {"field": "t"}
          }
        },
        {
          "data": {"name": "lab"},
          "transform": [{"filter": "datum.p === 'mid' && datum.k === 'sub'"}],
          "mark": {"type": "text", "align": "left", "baseline": "alphabetic", "fontSize": 20},
          "encoding": {
            "x": {"field": "x", "type": "quantitative", "axis": null},
            "y": {"field": "y", "type": "quantitative"},
            "text": {"field": "t"}
          }
        }
      ],
      "resolve": {"axis": {"x": "independent"}}
    },
    {
      "width": 401, "height": 199,
      "layer": [
        {
          "data": {"name": "spec"},
          "transform": [{"filter": "datum.p === 'bot'"}],
          "mark": {"type": "line", "clip": true, "strokeWidth": 1.8},
          "encoding": {
            "x": {"field": "x", "type": "quantitative", "scale": {"domain": [10, 230], "nice": false},
                  "axis": {"orient": "bottom", "values": [25,50,75,100,125,150,175,200,225], "labelExpr": "datum.value % 50 === 0 ? datum.label : ''", "labelFontSize": 22, "labelPadding": 18, "title": "Raman Shift (cm⁻¹)", "titleFontSize": 28, "titleX": 257, "titlePadding": 12, "tickSize": {"condition": {"test": "datum.value % 50 === 0", "value": -10}, "value": -5}}},
            "y": {"field": "y", "type": "quantitative", "scale": {"domain": [0, 199], "nice": false, "zero": false},
                  "axis": {"orient": "left", "values": [24.8, 49.8, 74.8, 99.8, 124.8, 149.8, 174.8], "labels": false, "title": null, "tickSize": {"condition": {"test": "indexof([50, 100, 150], round(datum.value)) >= 0", "value": -11}, "value": -6}}},
            "color": {"field": "s", "type": "nominal", "scale": {"domain": ["Ag", "Bg"], "range": ["black", "#ff0000"]}, "legend": null}
          }
        },
        {
          "data": {"name": "lab"},
          "transform": [{"filter": "datum.p === 'bot' && datum.k === 'main'"}],
          "mark": {"type": "text", "align": "left", "baseline": "alphabetic", "fontSize": 28},
          "encoding": {
            "x": {"field": "x", "type": "quantitative",
                  "axis": {"orient": "top", "values": [25,50,75,100,125,150,175,200,225], "labels": false, "title": null, "tickSize": {"condition": {"test": "datum.value % 50 === 0", "value": -10}, "value": -5}}},
            "y": {"field": "y", "type": "quantitative"},
            "text": {"field": "t"}
          }
        },
        {
          "data": {"name": "lab"},
          "transform": [{"filter": "datum.p === 'bot' && datum.k === 'sub'"}],
          "mark": {"type": "text", "align": "left", "baseline": "alphabetic", "fontSize": 20},
          "encoding": {
            "x": {"field": "x", "type": "quantitative", "axis": null},
            "y": {"field": "y", "type": "quantitative"},
            "text": {"field": "t"}
          }
        }
      ],
      "resolve": {"axis": {"x": "independent"}}
    }
  ]
}
